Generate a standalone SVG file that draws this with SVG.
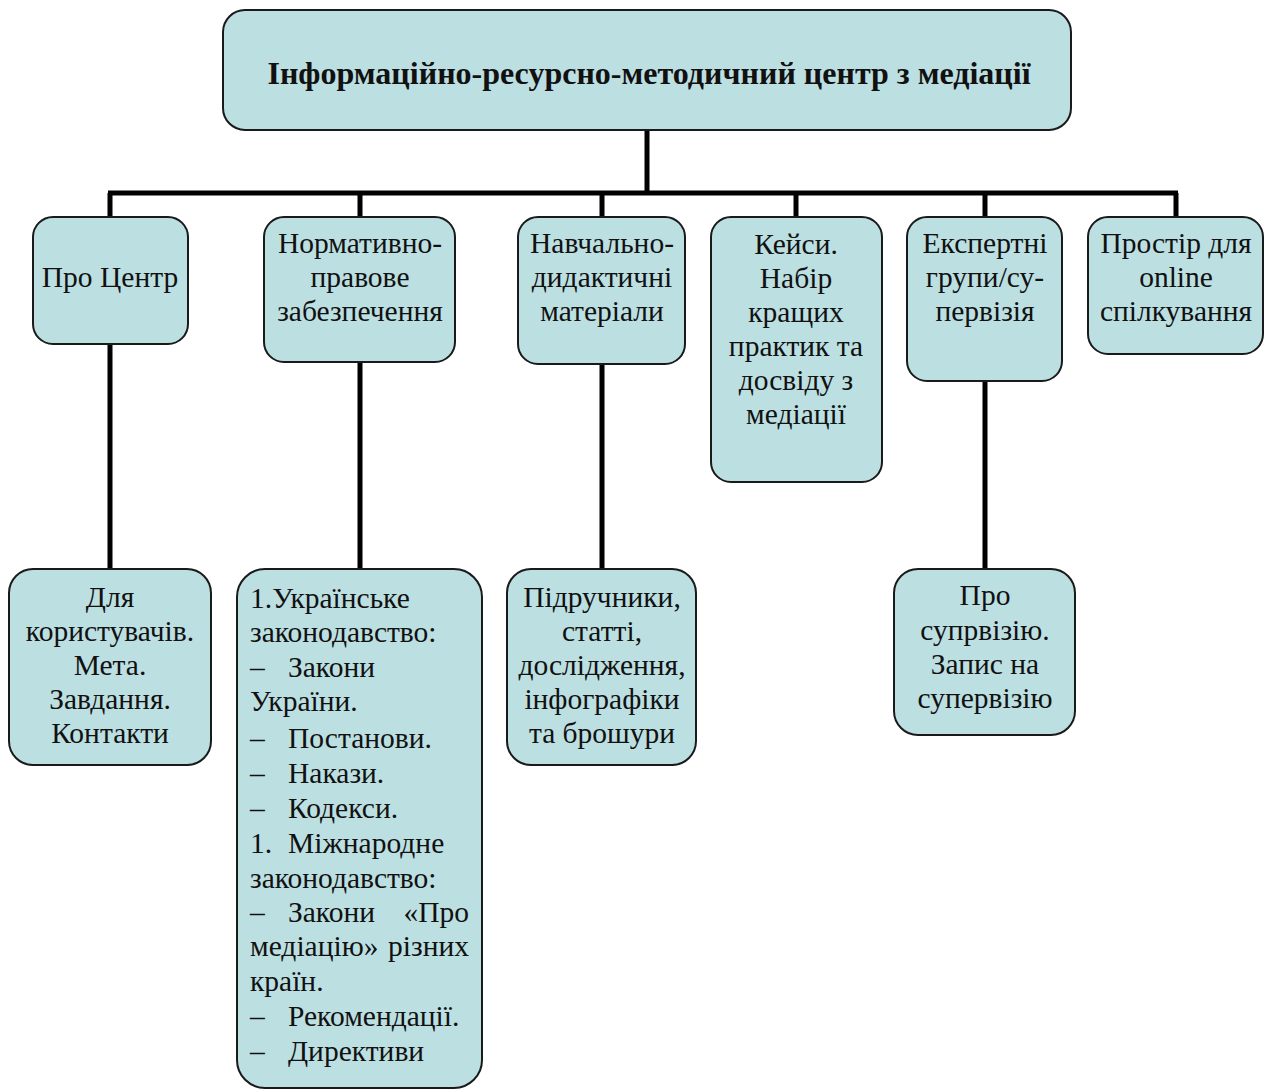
<svg xmlns="http://www.w3.org/2000/svg" width="1270" height="1090" viewBox="0 0 1270 1090">
<style>
.box{fill:#bcdfe2;stroke:#1a1a1a;stroke-width:2}
.t{font-family:"Liberation Serif","Times New Roman",serif;font-size:29.5px;fill:#111;text-anchor:middle}
.l{font-family:"Liberation Serif","Times New Roman",serif;font-size:29.5px;fill:#111}
.title{font-family:"Liberation Serif","Times New Roman",serif;font-size:32px;font-weight:bold;fill:#111;text-anchor:middle}
.c{stroke:#000;stroke-width:5;fill:none}
</style>
<rect width="1270" height="1090" fill="#fff"/>
<g id="connectors">
<path class="c" d="M647 130V193M108 193H1178M110 193V217M360 193V217M602 193V217M796 193V217M985 193V217M1176 193V217"/>
<path class="c" d="M110 344V569M360 362V569M602 364V569M985 381V569"/>
</g>
<g id="root">
<rect class="box" x="223" y="10" width="848" height="120" rx="22"/>
<text class="title" x="649" y="84">Інформаційно-ресурсно-методичний центр з медіації</text>
</g>
<g id="pro-centr">
<rect class="box" x="33" y="217" width="155" height="127" rx="20"/>
<text class="t" x="110" y="287">Про Центр</text>
</g>
<g id="normatyvno">
<rect class="box" x="264" y="217" width="191" height="145" rx="20"/>
<text class="t" x="360" y="253">Нормативно-</text>
<text class="t" x="360" y="287">правове</text>
<text class="t" x="360" y="321">забезпечення</text>
</g>
<g id="navchalno">
<rect class="box" x="518" y="217" width="167" height="147" rx="20"/>
<text class="t" x="602" y="253">Навчально-</text>
<text class="t" x="602" y="287">дидактичні</text>
<text class="t" x="602" y="321">матеріали</text>
</g>
<g id="keisy">
<rect class="box" x="711" y="217" width="171" height="265" rx="20"/>
<text class="t" x="796" y="254">Кейси.</text>
<text class="t" x="796" y="288">Набір</text>
<text class="t" x="796" y="322">кращих</text>
<text class="t" x="796" y="356">практик та</text>
<text class="t" x="796" y="390">досвіду з</text>
<text class="t" x="796" y="424">медіації</text>
</g>
<g id="ekspertni">
<rect class="box" x="907" y="217" width="155" height="164" rx="20"/>
<text class="t" x="985" y="253">Експертні</text>
<text class="t" x="985" y="287">групи/су-</text>
<text class="t" x="985" y="321">первізія</text>
</g>
<g id="prostir">
<rect class="box" x="1088" y="217" width="175" height="137" rx="20"/>
<text class="t" x="1176" y="253">Простір для</text>
<text class="t" x="1176" y="287">online</text>
<text class="t" x="1176" y="321">спілкування</text>
</g>
<g id="dlya-korystuvachiv">
<rect class="box" x="9" y="569" width="202" height="196" rx="24"/>
<text class="t" x="110" y="607">Для</text>
<text class="t" x="110" y="641">користувачів.</text>
<text class="t" x="110" y="675">Мета.</text>
<text class="t" x="110" y="709">Завдання.</text>
<text class="t" x="110" y="743">Контакти</text>
</g>
<g id="zakonodavstvo">
<rect class="box" x="237" y="569" width="245" height="519" rx="28"/>
<text class="l" x="250" y="608">1.Українське</text>
<text class="l" x="250" y="642">законодавство:</text>
<text class="l" x="250" y="677">–</text><text class="l" x="288" y="677">Закони</text>
<text class="l" x="250" y="711">України.</text>
<text class="l" x="250" y="748">–</text><text class="l" x="288" y="748">Постанови.</text>
<text class="l" x="250" y="783">–</text><text class="l" x="288" y="783">Накази.</text>
<text class="l" x="250" y="818">–</text><text class="l" x="288" y="818">Кодекси.</text>
<text class="l" x="250" y="853">1.</text><text class="l" x="288" y="853">Міжнародне</text>
<text class="l" x="250" y="888">законодавство:</text>
<text class="l" x="250" y="922">–</text><text class="l" x="288" y="922">Закони</text><text class="l" x="469" y="922" text-anchor="end">«Про</text>
<text class="l" x="250" y="956">медіацію»</text><text class="l" x="469" y="956" text-anchor="end">різних</text>
<text class="l" x="250" y="991">країн.</text>
<text class="l" x="250" y="1026">–</text><text class="l" x="288" y="1026">Рекомендації.</text>
<text class="l" x="250" y="1061">–</text><text class="l" x="288" y="1061">Директиви</text>
</g>
<g id="pidruchnyky">
<rect class="box" x="507" y="569" width="189" height="196" rx="24"/>
<text class="t" x="602" y="607">Підручники,</text>
<text class="t" x="602" y="641">статті,</text>
<text class="t" x="602" y="675">дослідження,</text>
<text class="t" x="602" y="709">інфографіки</text>
<text class="t" x="602" y="743">та брошури</text>
</g>
<g id="pro-supervisiyu">
<rect class="box" x="894" y="569" width="181" height="166" rx="24"/>
<text class="t" x="985" y="605">Про</text>
<text class="t" x="985" y="640">супрвізію.</text>
<text class="t" x="985" y="674">Запис на</text>
<text class="t" x="985" y="708">супервізію</text>
</g>
</svg>
